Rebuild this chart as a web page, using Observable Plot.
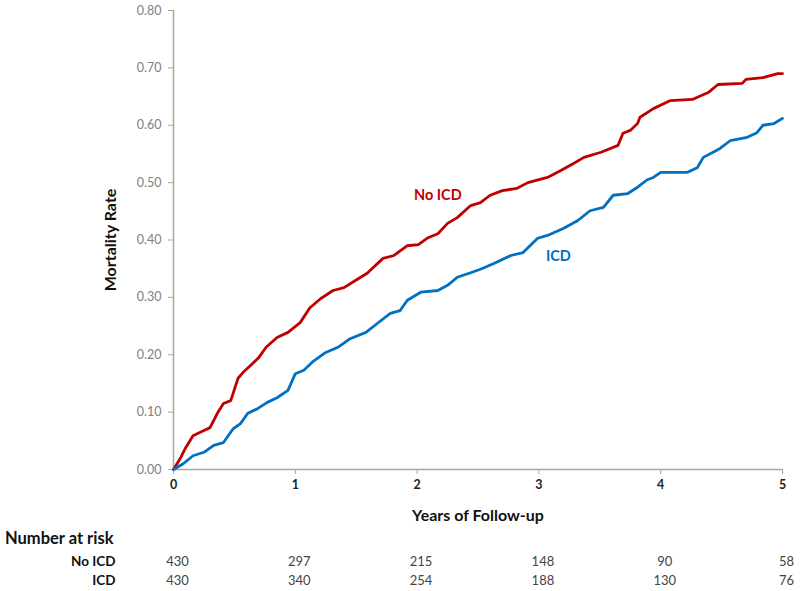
<!DOCTYPE html>
<html><head><meta charset="utf-8">
<script src="https://cdn.jsdelivr.net/npm/d3@7"></script>
<script src="https://cdn.jsdelivr.net/npm/@observablehq/plot@0.6"></script>
<style>
body{margin:0;background:#fff;font-family:Lato,"Open Sans",sans-serif}
#wrap{width:800px;height:591px;overflow:hidden;background:#fff}
#riskTitle{font-weight:bold;font-size:16.5px;color:#111;padding-left:5px;height:27px;line-height:27px}
svg{display:block}
</style></head><body><div id="wrap"></div>
<script>
// Kaplan-Meier mortality
const noIcdTime = [0,0.06,0.10,0.16,0.25,0.30,0.36,0.41,0.47,0.53,0.57,0.63,0.70,0.76,0.85,0.94,1.04,1.12,1.21,1.31,1.40,1.49,1.59,1.72,1.81,1.92,2.01,2.09,2.17,2.25,2.33,2.44,2.52,2.60,2.70,2.82,2.91,3.07,3.18,3.28,3.37,3.51,3.65,3.69,3.75,3.81,3.83,3.94,4.08,4.26,4.39,4.47,4.67,4.70,4.84,4.96,5.00];
const noIcdRate = [0,0.021,0.038,0.059,0.068,0.073,0.098,0.115,0.120,0.159,0.169,0.181,0.195,0.213,0.230,0.239,0.256,0.282,0.298,0.312,0.317,0.329,0.342,0.368,0.373,0.390,0.392,0.404,0.411,0.429,0.439,0.460,0.465,0.478,0.486,0.490,0.500,0.509,0.521,0.533,0.544,0.553,0.565,0.586,0.591,0.603,0.614,0.629,0.643,0.645,0.657,0.671,0.673,0.680,0.683,0.690,0.690];
const icdTime = [0,0.08,0.16,0.25,0.33,0.41,0.49,0.55,0.61,0.69,0.77,0.85,0.94,1.00,1.07,1.15,1.25,1.35,1.45,1.58,1.67,1.78,1.86,1.92,2.03,2.17,2.25,2.33,2.44,2.52,2.63,2.77,2.87,2.99,3.07,3.20,3.32,3.42,3.53,3.61,3.73,3.81,3.89,3.94,4.00,4.22,4.30,4.35,4.43,4.49,4.57,4.71,4.79,4.84,4.93,5.00];
const icdRate = [0,0.010,0.024,0.030,0.042,0.047,0.071,0.080,0.098,0.106,0.117,0.125,0.138,0.167,0.173,0.189,0.204,0.213,0.228,0.239,0.254,0.272,0.277,0.295,0.309,0.312,0.321,0.335,0.343,0.349,0.359,0.373,0.378,0.403,0.408,0.420,0.434,0.451,0.457,0.478,0.481,0.492,0.505,0.509,0.518,0.518,0.526,0.544,0.553,0.560,0.573,0.579,0.587,0.600,0.603,0.612];

const seriesNames = ["No ICD", "ICD"];
const seriesColors = ["#c00000", "#0070c0"];
const labelTime = [2.17, 3.16];
const labelRate = [0.478, 0.371];

const xTicks = [0,1,2,3,4,5];
const yTicks = [0,0.1,0.2,0.3,0.4,0.5,0.6,0.7,0.8];

const riskTimes = [0,1,2,3,4,5];
const noIcdAtRisk = [430,297,215,148,90,58];
const icdAtRisk = [430,340,254,188,130,76];

const xTitle = "Years of Follow-up";
const yTitle = "Mortality Rate";
const riskTitle = "Number at risk";

const noIcd = noIcdTime.map((t,i)=>({t, r:noIcdRate[i]}));
const icd = icdTime.map((t,i)=>({t, r:icdRate[i]}));
const labels = seriesNames.map((name,i)=>({name, t:labelTime[i], r:labelRate[i], c:seriesColors[i]}));
const riskRows = [];
riskTimes.forEach((t,i)=>{
  riskRows.push({t, group:seriesNames[0], n:noIcdAtRisk[i]});
  riskRows.push({t, group:seriesNames[1], n:icdAtRisk[i]});
});

const axisGray = "#a6a6a6";
const font = "Lato, 'Open Sans', sans-serif";

const chart = Plot.plot({
  width: 800, height: 525,
  marginTop: 10, marginBottom: 56, marginLeft: 173, marginRight: 18,
  style: {fontFamily: font, fontSize: "12px", background: "#fff", overflow: "visible"},
  x: {domain: [0,5]},
  y: {domain: [0,0.8]},
  marks: [
    Plot.axisY({ticks: yTicks, tickFormat: d3.format(".2f"), tickSize: 5, tickPadding: 7, stroke: axisGray, fill: "#808080", label: null, fontSize: 12.5}),
    Plot.axisX({ticks: xTicks, tickFormat: d => String(d), tickSize: 5, tickPadding: 6, stroke: axisGray, fill: "#222", fontWeight: "bold", label: null, fontSize: 12.5}),
    Plot.ruleX([0], {stroke: axisGray, strokeWidth: 1.5}),
    Plot.ruleY([0], {stroke: axisGray, strokeWidth: 1.5}),
    Plot.line(noIcd, {x: "t", y: "r", stroke: seriesColors[0], strokeWidth: 2.8}),
    Plot.line(icd, {x: "t", y: "r", stroke: seriesColors[1], strokeWidth: 2.8}),
    Plot.text(labels, {x: "t", y: "r", text: "name", fill: "c", fontWeight: "bold", fontSize: 14.5}),
    Plot.text([xTitle], {frameAnchor: "bottom", lineAnchor: "middle", dy: 46, fontWeight: "bold", fontSize: 16, fill: "#111"}),
    Plot.text([yTitle], {frameAnchor: "left", textAnchor: "middle", lineAnchor: "middle", rotate: -90, dx: -63, fontWeight: "bold", fontSize: 16, fill: "#111"})
  ]
});

const risk = Plot.plot({
  width: 800, height: 38,
  marginTop: 0, marginBottom: 0, marginLeft: 173, marginRight: 18,
  style: {fontFamily: font, fontSize: "13px", background: "#fff", overflow: "visible"},
  x: {domain: [0,5], axis: null},
  y: {type: "band", domain: seriesNames, padding: 0},
  marks: [
    Plot.axisY({tickSize: 0, tickPadding: 58, fontWeight: "bold", fill: "#111", fontSize: 13.5, label: null}),
    Plot.text(riskRows, {x: "t", y: "group", text: "n", dx: 4, fontSize: 13, fill: "#444"})
  ]
});

const wrap = document.getElementById("wrap");
wrap.appendChild(chart);
const title = document.createElement("div");
title.id = "riskTitle";
title.textContent = riskTitle;
wrap.appendChild(title);
wrap.appendChild(risk);
</script></body></html>
